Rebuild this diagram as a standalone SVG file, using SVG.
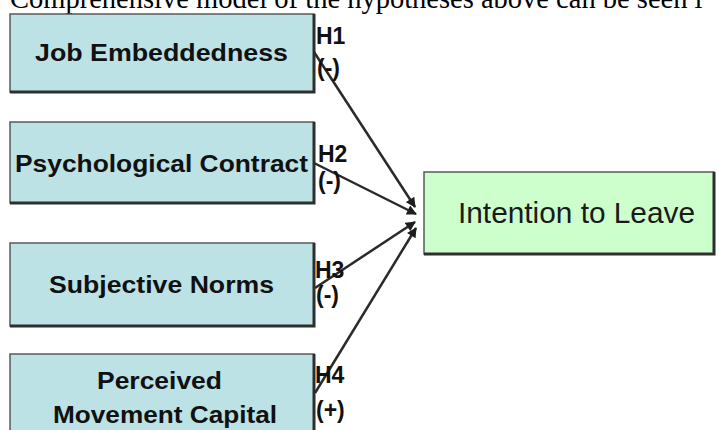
<svg xmlns="http://www.w3.org/2000/svg" width="719" height="430" viewBox="0 0 719 430">
  <style>
    .box { fill: #bce2e5; stroke: #5a5a5a; stroke-width: 1.5; }
    .goal { fill: #ccffcc; stroke: #5a5a5a; stroke-width: 1.5; }
    .shadow { stroke: #2e2e2e; stroke-width: 3; fill: none; }
    .lbl { font-family: "Liberation Sans", Arial, sans-serif; font-weight: bold; font-size: 24px; fill: #111; }
    .goal-lbl { font-family: "Liberation Sans", Arial, sans-serif; font-size: 29px; fill: #1a1a1a; }
    .h { font-family: "Liberation Sans", Arial, sans-serif; font-weight: bold; font-size: 23px; fill: #111; }
    .conn { stroke: #2a2a2a; stroke-width: 2.5; fill: none; marker-end: url(#arr); }
    .cap { font-family: "Liberation Serif", "Times New Roman", serif; font-size: 28.5px; fill: #000; }
  </style>
  <defs>
    <marker id="arr" viewBox="0 0 10 10" refX="9" refY="5" markerWidth="4.4" markerHeight="4" orient="auto" markerUnits="strokeWidth">
      <path d="M0,0 L10,5 L0,10 z" fill="#1e1e1e"/>
    </marker>
  </defs>
  <rect width="719" height="430" fill="#ffffff"/>
  <text class="cap" x="10" y="8">Comprehensive model of the hypotheses above can be seen i</text>

  <g id="job-embeddedness">
    <rect class="box" x="10" y="14" width="304" height="78"/>
    <path class="shadow" d="M10,92 H314 V14"/>
    <text class="lbl" x="35" y="61" textLength="253" lengthAdjust="spacingAndGlyphs">Job Embeddedness</text>
  </g>
  <g id="psychological-contract">
    <rect class="box" x="10" y="122" width="304" height="81"/>
    <path class="shadow" d="M10,203 H314 V122"/>
    <text class="lbl" x="15" y="172" textLength="293" lengthAdjust="spacingAndGlyphs">Psychological Contract</text>
  </g>
  <g id="subjective-norms">
    <rect class="box" x="10" y="243" width="304" height="83"/>
    <path class="shadow" d="M10,326 H314 V243"/>
    <text class="lbl" x="49" y="293" textLength="225" lengthAdjust="spacingAndGlyphs">Subjective Norms</text>
  </g>
  <g id="perceived-movement-capital">
    <rect class="box" x="10" y="354" width="304" height="90"/>
    <path class="shadow" d="M314,354 V432"/>
    <text class="lbl" x="97" y="389" textLength="125" lengthAdjust="spacingAndGlyphs">Perceived</text>
    <text class="lbl" x="53" y="423" textLength="224" lengthAdjust="spacingAndGlyphs">Movement Capital</text>
  </g>
  <g id="intention-to-leave">
    <rect class="goal" x="424" y="172" width="290" height="82"/>
    <path class="shadow" d="M424,254 H714 V172"/>
    <text class="goal-lbl" x="458" y="223" textLength="237" lengthAdjust="spacingAndGlyphs">Intention to Leave</text>
  </g>

  <g id="connectors">
    <line class="conn" x1="314" y1="52" x2="415" y2="207"/>
    <line class="conn" x1="314" y1="163" x2="416" y2="214"/>
    <line class="conn" x1="315" y1="288" x2="415" y2="222"/>
    <line class="conn" x1="315" y1="393" x2="416" y2="228"/>
  </g>

  <g id="hypothesis-labels">
    <text class="h" x="316" y="44">H1</text>
    <text class="h" x="317" y="76">(-)</text>
    <text class="h" x="318" y="162">H2</text>
    <text class="h" x="318" y="189">(-)</text>
    <text class="h" x="315" y="278">H3</text>
    <text class="h" x="316" y="303">(-)</text>
    <text class="h" x="315" y="383">H4</text>
    <text class="h" x="316" y="418">(+)</text>
  </g>
</svg>
